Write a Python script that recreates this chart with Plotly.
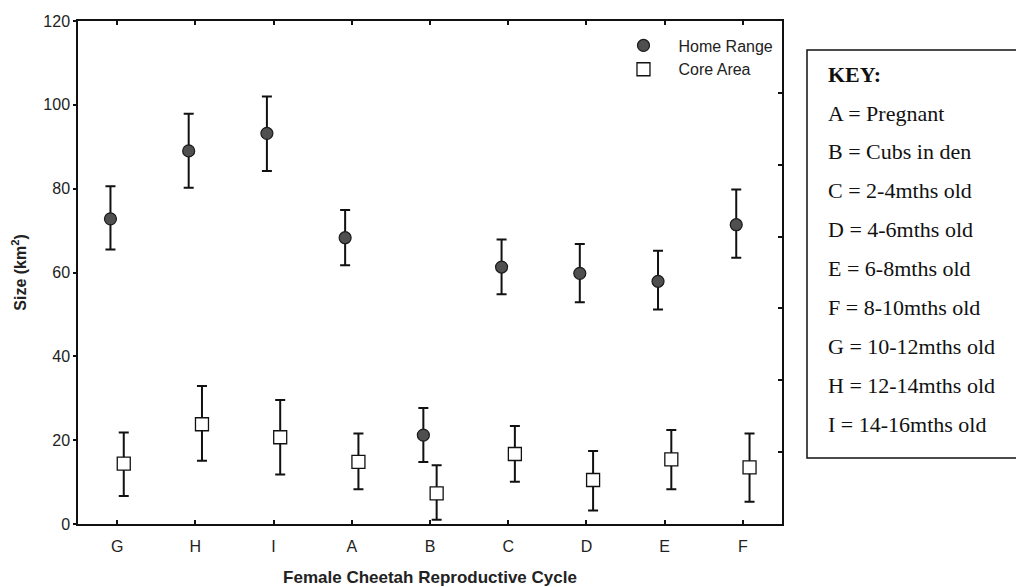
import numpy as np
import plotly.graph_objs as go

# reproductive stages in plotted order
stages = ['G', 'H', 'I', 'A', 'B', 'C', 'D', 'E', 'F']

# home range (km2): mean with upper / lower limits
home_mean = [72.8, 89.0, 93.2, 68.3, 21.2, 61.3, 59.8, 57.9, 71.4]
home_upper = [80.6, 97.9, 102.0, 74.9, 27.7, 67.9, 66.8, 65.2, 79.8]
home_lower = [65.5, 80.2, 84.2, 61.7, 14.8, 54.8, 52.9, 51.2, 63.5]

# core area (km2)
core_mean = [14.4, 23.8, 20.7, 14.8, 7.3, 16.7, 10.5, 15.4, 13.5]
core_upper = [21.8, 32.9, 29.6, 21.6, 14.0, 23.4, 17.4, 22.4, 21.6]
core_lower = [6.7, 15.1, 11.8, 8.3, 1.0, 10.1, 3.2, 8.3, 5.3]

key_title = 'KEY:'
key_lines = ['A = Pregnant', 'B = Cubs in den', 'C = 2-4mths old', 'D = 4-6mths old',
             'E = 6-8mths old', 'F = 8-10mths old', 'G = 10-12mths old',
             'H = 12-14mths old', 'I = 14-16mths old']

pos = np.arange(len(stages))
shift = 0.085

home_mean = np.asarray(home_mean)
core_mean = np.asarray(core_mean)

fig = go.Figure()
fig.add_trace(go.Scatter(
    x=pos - shift, y=home_mean,
    mode='markers',
    name='Home Range',
    marker=dict(symbol='circle', size=12, color='#4f4f4f', line=dict(color='#1a1a1a', width=1.2)),
    error_y=dict(type='data', symmetric=False,
                 array=np.asarray(home_upper) - home_mean,
                 arrayminus=home_mean - np.asarray(home_lower),
                 color='#111', thickness=2, width=5)
))
fig.add_trace(go.Scatter(
    x=pos + shift, y=core_mean,
    mode='markers',
    name='Core Area',
    marker=dict(symbol='square', size=13, color='white', line=dict(color='#111', width=1.3)),
    error_y=dict(type='data', symmetric=False,
                 array=np.asarray(core_upper) - core_mean,
                 arrayminus=core_mean - np.asarray(core_lower),
                 color='#111', thickness=2, width=5)
))

# invisible trace so the right hand axis (odd tick spacing) gets drawn
fig.add_trace(go.Scatter(x=[0], y=[0], yaxis='y2', mode='markers', marker=dict(opacity=0),
                         showlegend=False, hoverinfo='skip'))

fig.update_xaxes(range=[-0.5, 8.5], tickvals=pos, ticktext=stages, automargin=False,
                 showline=True, linecolor='#111', linewidth=1.5, mirror='ticks',
                 ticks='inside', ticklen=4, tickcolor='#111', tickwidth=1.5,
                 ticklabelstandoff=7,
                 showgrid=False, zeroline=False,
                 tickfont=dict(family='Arial', size=16, color='#222'),
                 title=dict(text='<b>Female Cheetah Reproductive Cycle</b>', standoff=18,
                            font=dict(family='Arial', size=17, color='#222')))
fig.update_yaxes(range=[0, 120], dtick=20, automargin=False,
                 showline=True, linecolor='#111', linewidth=1.5,
                 ticks='outside', ticklen=3, tickcolor='#111', tickwidth=1.5,
                 showgrid=False, zeroline=False,
                 tickfont=dict(family='Arial', size=16, color='#222'),
                 title=dict(text='<b>Size (km<sup>2</sup>)</b>', standoff=13,
                            font=dict(family='Arial', size=16, color='#222')))

annotations = [dict(text='<b>' + key_title + '</b>', xref='paper', yref='paper',
                    x=(826 - 78) / 704, y=(524 - 74) / 503, xanchor='left', yanchor='middle',
                    showarrow=False, font=dict(family='Liberation Serif', size=22, color='#111'))]
for i, line in enumerate(key_lines):
    annotations.append(dict(text=line, xref='paper', yref='paper',
                            x=(826 - 78) / 704, y=(524 - (113 + i * 38.9)) / 503,
                            xanchor='left', yanchor='middle', showarrow=False,
                            font=dict(family='Liberation Serif', size=22, color='#111')))

# page body has an 8px margin, so the figure is shrunk by that much
fig.update_layout(
    width=1016, height=579,
    margin=dict(l=70, r=242, t=13, b=63),
    paper_bgcolor='white', plot_bgcolor='white',
    showlegend=True,
    legend=dict(x=0.995, y=0.985, xanchor='right', yanchor='top', itemwidth=60,
                bgcolor='rgba(0,0,0,0)', tracegroupgap=0,
                font=dict(family='Arial', size=16, color='#222')),
    yaxis2=dict(overlaying='y', side='right', range=[0, 120], dtick=120 / 7, automargin=False,
                showticklabels=False, ticks='inside', ticklen=4, tickcolor='#111', tickwidth=1.5,
                showline=True, linecolor='#111', linewidth=1.5, showgrid=False, zeroline=False),
    shapes=[dict(type='rect', xref='paper', yref='paper',
                 x0=(807 - 78) / 704, x1=(1022 - 78) / 704,
                 y0=(524 - 458) / 503, y1=(524 - 50) / 503,
                 line=dict(color='#111', width=1.5))],
    annotations=annotations
)

fig.write_html('out.html')
